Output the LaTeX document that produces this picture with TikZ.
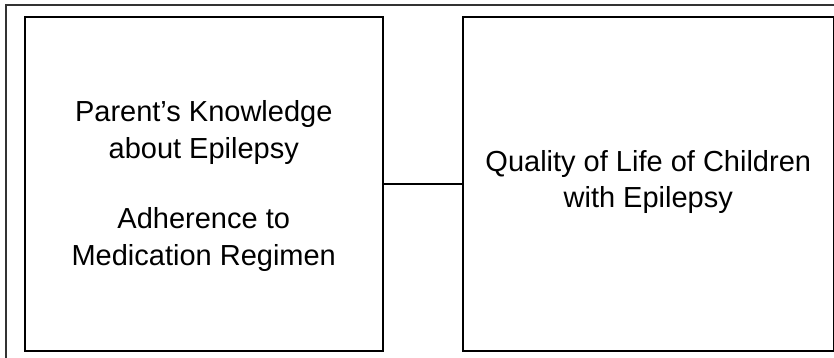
\documentclass[tikz,border=0pt]{standalone}
\usepackage{fontspec}
\setmainfont{Liberation Sans}
\begin{document}
\begin{tikzpicture}[x=1pt,y=-1pt,
  box/.style={draw=black,line width=2pt,minimum width=#1,minimum height=333.5pt,inner sep=0pt,anchor=north west},
  lbl/.style={font=\fontsize{29}{36.5}\selectfont,align=center},
  link/.style={draw=black,line width=2pt}]
\useasboundingbox (0,0) rectangle (834,358);
\clip (0,0) rectangle (834,358);
\draw[draw=black!80,line width=2pt] (5.5,5.5) rectangle (850,370);
\node[box=357.5pt] (left) at (24,16.5) {};
\node[box=370.5pt] (right) at (462,16.5) {};
\node[lbl] (lt) at ([yshift=-2pt]left.center) {Parent’s Knowledge\\about Epilepsy\\[34pt]Adherence to\\Medication Regimen};
\node[lbl] (rt) at ([yshift=2pt]right.center) {Quality of Life of Children\\with Epilepsy};
\draw[link] (left.east) -- (right.west);
\end{tikzpicture}
\end{document}
